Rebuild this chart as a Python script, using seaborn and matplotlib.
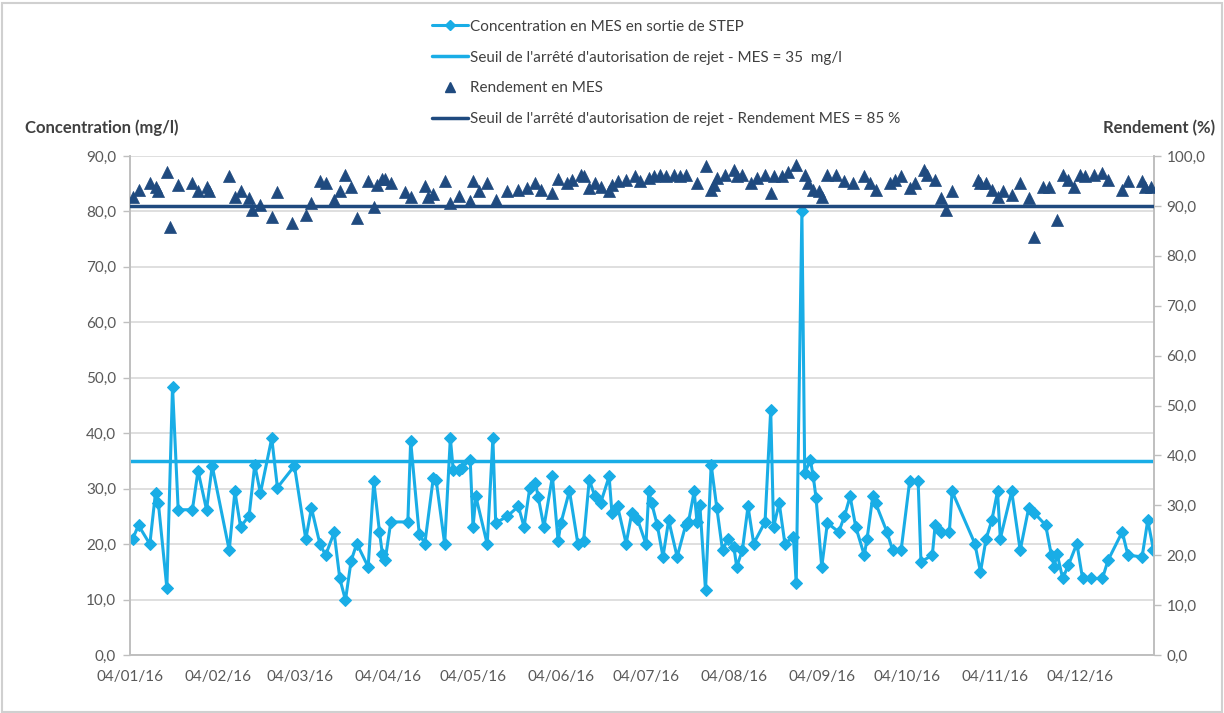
import pandas as pd
import numpy as np
import matplotlib.pyplot as plt
import matplotlib.ticker as mticker
import matplotlib.dates as mdates
from matplotlib.lines import Line2D
from matplotlib.patches import Rectangle
import seaborn as sns

sns.set_theme(style="white")
plt.rcParams['font.family'] = ['Lato', 'DejaVu Sans']

LIGHT_BLUE = "#19ADE6"
DARK_BLUE = "#1F4A7F"
GREY_TXT = "#595959"

START = pd.Timestamp("2016-01-04")

# concentration en MES (mg/l) - days counted from 04/01/16
conc_day = [1, 3, 7, 9, 10, 13, 15, 17, 22, 24, 27, 29, 35, 37, 39, 42, 44, 46, 50, 52,
            58, 62, 64, 67, 69, 72, 74, 76, 78, 80, 84, 86, 88, 89, 90, 92, 98, 99, 102, 104,
            107, 108, 111, 113, 114, 116, 117, 120, 121, 122, 126, 128, 129, 133, 137, 139, 141, 143, 144, 146,
            149, 151, 152, 155, 158, 160, 162, 164, 166, 169, 170, 172, 175, 177, 179, 182, 183, 184, 186, 188,
            190, 193, 196, 197, 199, 200, 201, 203, 205, 207, 209, 211, 213, 214, 216, 218, 220, 224, 226, 227,
            229, 231, 234, 235, 237, 238, 240, 241, 242, 244, 246, 250, 252, 254, 256, 259, 260, 262, 263, 267,
            269, 272, 275, 278, 279, 283, 284, 286, 289, 290, 298, 300, 302, 304, 306, 307, 311, 314, 317, 319,
            323, 325, 326, 327, 329, 331, 334, 336, 339, 343, 345, 350, 352, 357, 359, 361]
conc_val = [21.0, 23.4, 20.0, 29.3, 27.4, 12.1, 48.4, 26.2, 26.2, 33.2, 26.2, 34.1, 18.9, 29.5, 23.1, 25.1, 34.3, 29.2, 39.1, 30.2,
            34.1, 20.9, 26.5, 20.0, 18.0, 22.1, 13.8, 9.9, 17.0, 20.1, 15.9, 31.3, 22.2, 18.3, 17.1, 24.0, 24.0, 38.6, 21.9, 20.1,
            32.0, 31.5, 20.0, 39.1, 33.4, 33.4, 33.8, 35.2, 23.1, 28.6, 20.0, 39.1, 23.8, 25.0, 26.8, 23.1, 30.1, 31.0, 28.5, 23.1,
            32.2, 20.6, 23.8, 29.6, 20.0, 20.6, 31.6, 28.6, 27.4, 32.2, 25.6, 26.8, 20.1, 25.6, 24.5, 20.0, 29.5, 27.4, 23.4, 17.7,
            24.3, 17.7, 23.4, 24.0, 29.5, 24.0, 27.1, 11.7, 34.3, 26.5, 18.9, 21.0, 19.5, 15.9, 18.9, 26.8, 20.1, 24.0, 44.2, 23.1,
            27.4, 20.1, 21.3, 12.9, 80.0, 32.8, 35.2, 32.2, 28.3, 15.9, 23.8, 22.2, 25.0, 28.6, 23.1, 18.0, 21.0, 28.6, 27.4, 22.2,
            18.9, 18.9, 31.3, 31.3, 16.8, 18.0, 23.4, 22.2, 22.2, 29.5, 20.1, 15.0, 21.0, 24.3, 29.5, 21.0, 29.5, 18.9, 26.5, 25.6,
            23.4, 18.0, 15.9, 18.3, 13.8, 16.2, 20.1, 13.8, 13.8, 13.8, 17.1, 22.2, 18.0, 17.7, 24.3, 19.0]

# rendement en MES (%)
rend_day = [1, 3, 7, 9, 10, 13, 14, 17, 22, 24, 27, 28, 35, 37, 39, 42, 43, 46, 50, 52,
            57, 62, 64, 67, 69, 72, 74, 76, 78, 80, 84, 86, 87, 89, 90, 92, 97, 99, 104, 105,
            107, 111, 113, 116, 120, 121, 123, 126, 129, 133, 137, 140, 143, 145, 149, 151, 154, 156, 159, 160,
            162, 164, 166, 169, 170, 172, 175, 178, 180, 183, 185, 187, 189, 192, 194, 196, 200, 203, 205, 206,
            207, 210, 213, 214, 216, 219, 221, 224, 226, 227, 230, 232, 235, 238, 239, 241, 243, 244, 246, 249,
            252, 255, 259, 261, 263, 268, 270, 272, 275, 277, 280, 281, 284, 286, 288, 290, 299, 300, 302, 304,
            306, 308, 311, 314, 317, 319, 322, 324, 327, 329, 331, 333, 335, 337, 340, 343, 345, 350, 352, 357,
            358, 360]
rend_val = [91.8, 93.2, 94.5, 93.7, 92.9, 96.7, 85.8, 94.2, 94.5, 92.9, 93.8, 92.9, 96.0, 91.8, 92.9, 91.5, 89.2, 90.2, 87.8, 92.7,
            86.6, 88.2, 90.5, 95.0, 94.5, 91.2, 92.9, 96.2, 93.8, 87.5, 94.9, 89.8, 94.2, 95.4, 95.3, 94.5, 92.7, 91.8, 94.0, 91.8,
            92.4, 94.9, 90.5, 91.9, 90.9, 94.9, 92.9, 94.5, 91.2, 92.9, 93.2, 93.5, 94.5, 93.2, 92.5, 95.3, 94.5, 95.2, 96.2, 95.9,
            93.5, 94.5, 93.8, 92.9, 94.2, 94.9, 95.2, 95.9, 94.9, 95.5, 95.9, 96.2, 95.9, 96.2, 95.9, 96.2, 94.5, 98.0, 93.2, 94.2,
            95.5, 96.2, 97.2, 95.9, 96.2, 94.5, 95.5, 96.2, 92.5, 95.9, 95.9, 96.7, 98.2, 96.2, 94.5, 93.2, 92.9, 91.8, 96.2, 96.2,
            94.9, 94.5, 95.9, 94.5, 93.2, 94.5, 95.2, 95.9, 93.5, 94.5, 97.2, 96.2, 95.2, 91.5, 89.2, 92.9, 95.2, 94.5, 94.5, 93.2,
            91.8, 92.9, 92.2, 94.5, 91.5, 83.7, 93.8, 93.8, 87.2, 96.2, 95.2, 93.8, 96.2, 95.9, 96.2, 96.5, 95.2, 93.2, 94.9, 94.9,
            93.8, 93.8]

SEUIL_MES = 35
SEUIL_REND = 90

conc = pd.DataFrame({"date": START + pd.to_timedelta(conc_day, unit="D"), "mes": conc_val})
rend = pd.DataFrame({"date": START + pd.to_timedelta(rend_day, unit="D"), "rendement": rend_val})

fig = plt.figure(figsize=(12.24, 7.13), dpi=100)
ax = fig.add_axes([130 / 1224, 1 - 655 / 713, (1154 - 130) / 1224, (655 - 156) / 713])
ax2 = ax.twinx()

sns.lineplot(data=conc, x="date", y="mes", ax=ax, color=LIGHT_BLUE, linewidth=2.2,
             marker="D", markersize=6.5, markeredgecolor=LIGHT_BLUE, zorder=3)
ax.axhline(SEUIL_MES, color=LIGHT_BLUE, linewidth=2.5, zorder=2)

sns.scatterplot(data=rend, x="date", y="rendement", ax=ax2, color=DARK_BLUE, marker="^",
                s=75, edgecolor=DARK_BLUE, linewidth=0.5, zorder=4)
ax2.axhline(SEUIL_REND, color=DARK_BLUE, linewidth=2.5, zorder=3)

ax.set_ylim(0, 90)
ax2.set_ylim(0, 100)
ax.set_xlim(START, START + pd.Timedelta(days=361.2))
ax.yaxis.set_major_locator(mticker.MultipleLocator(10))
ax2.yaxis.set_major_locator(mticker.MultipleLocator(10))
comma = mticker.FuncFormatter(lambda v, p: f"{v:.1f}".replace(".", ","))
ax.yaxis.set_major_formatter(comma)
ax2.yaxis.set_major_formatter(comma)

month_ticks = pd.date_range(START, periods=12, freq=pd.DateOffset(months=1))
ax.set_xticks(month_ticks)
ax.xaxis.set_major_formatter(mdates.DateFormatter("%d/%m/%y"))

ax.grid(axis="y", color="#D9D9D9", linewidth=1.2)
ax.set_axisbelow(True)
for a in (ax, ax2):
    a.set_xlabel("")
    a.set_ylabel("")
    a.spines["top"].set_visible(False)
    for s in ("left", "right", "bottom"):
        a.spines[s].set_color("#BFBFBF")
        a.spines[s].set_linewidth(1.2)
    a.tick_params(colors=GREY_TXT, labelsize=11, length=5, width=1, color="#BFBFBF")
ax.tick_params(axis="y", pad=5)
ax2.tick_params(axis="y", pad=4)
ax.tick_params(axis="x", pad=6)

fig.text(25 / 1224, 1 - 128 / 713, "Concentration (mg/l)", fontsize=12, fontweight="bold",
         color="#404040", va="center", ha="left")
fig.text(1215 / 1224, 1 - 128 / 713, "Rendement (%)", fontsize=12, fontweight="bold",
         color="#404040", va="center", ha="right")

handles = [
    Line2D([], [], color=LIGHT_BLUE, linewidth=2.2, marker="D", markersize=5),
    Line2D([], [], color=LIGHT_BLUE, linewidth=2.5),
    Line2D([], [], color=DARK_BLUE, linestyle="none", marker="^", markersize=7),
    Line2D([], [], color=DARK_BLUE, linewidth=2.5),
]
labels = [
    "Concentration en MES en sortie de STEP",
    "Seuil de l'arrêté d'autorisation de rejet - MES = 35  mg/l",
    "Rendement en MES",
    "Seuil de l'arrêté d'autorisation de rejet - Rendement MES = 85 %",
]
fig.legend(handles, labels, loc="upper left", bbox_to_anchor=(418 / 1224, 1 - 6 / 713),
           frameon=False, fontsize=11, handlelength=2.4, handletextpad=0.1,
           labelspacing=1.1, labelcolor="#404040")

fig.patches.append(Rectangle((0.002, 0.002), 0.996, 0.994, transform=fig.transFigure,
                             fill=False, edgecolor="#D0D0D0", linewidth=1.5))

plt.savefig("out.png", dpi=100)
